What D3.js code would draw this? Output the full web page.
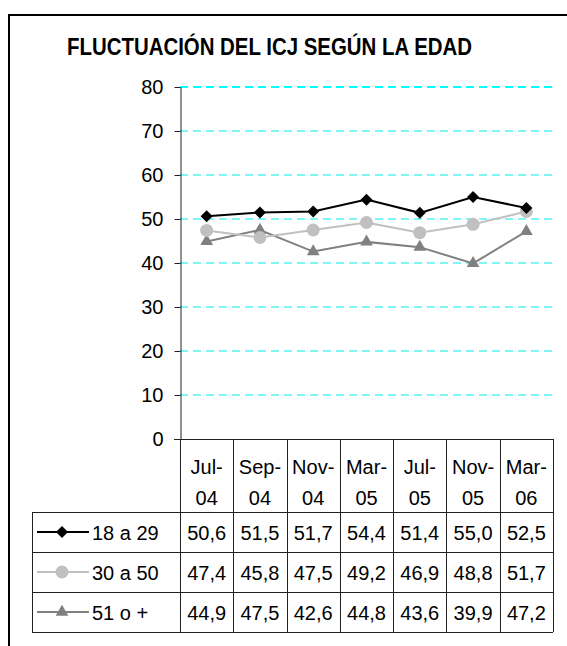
<!DOCTYPE html>
<html>
<head>
<meta charset="utf-8">
<script src="https://cdn.jsdelivr.net/npm/d3@7"></script>
<style>
  body { margin: 0; background: #fff; }
  text { font-family: "Liberation Sans", Arial, sans-serif; }
</style>
</head>
<body>
<div id="chart"></div>
<script>
// chart data
const categories = ["Jul-04", "Sep-04", "Nov-04", "Mar-05", "Jul-05", "Nov-05", "Mar-06"];
const seriesNames = ["18 a 29", "30 a 50", "51 o +"];
const values18a29 = [50.6, 51.5, 51.7, 54.4, 51.4, 55.0, 52.5];
const values30a50 = [47.4, 45.8, 47.5, 49.2, 46.9, 48.8, 51.7];
const values51mas = [44.9, 47.5, 42.6, 44.8, 43.6, 39.9, 47.2];
const yTicks = [0, 10, 20, 30, 40, 50, 60, 70, 80];

const width = 567, height = 646;
const font = "Liberation Sans, Arial, sans-serif";

const series = [
    { name: seriesNames[0], values: values18a29, color: "#000000", marker: "#000000", symbol: "diamond" },
    { name: seriesNames[1], values: values30a50, color: "#c0c0c0", marker: "#c0c0c0", symbol: "circle" },
    { name: seriesNames[2], values: values51mas, color: "#808080", marker: "#808080", symbol: "triangle" }
];

const svg = d3.select("#chart").append("svg")
    .attr("width", width)
    .attr("height", height);

svg.append("rect").attr("width", width).attr("height", height).attr("fill", "#fff");

// outer frame (runs off the right / bottom edge)
svg.append("rect")
    .attr("x", 9).attr("y", 15)
    .attr("width", 600).attr("height", 700)
    .attr("fill", "none")
    .attr("stroke", "#000")
    .attr("stroke-width", 2);

// title - Excel draws it tall and tight
svg.append("text")
    .attr("x", 67).attr("y", 55)
    .attr("textLength", 405)
    .attr("lengthAdjust", "spacingAndGlyphs")
    .style("font-size", "23px")
    .style("font-weight", "bold")
    .text("FLUCTUACIÓN DEL ICJ SEGÚN LA EDAD");

const plotLeft = 180, plotRight = 553;
const x = d3.scaleBand().domain(categories).range([plotLeft, plotRight]);
const y = d3.scaleLinear().domain([0, 80]).range([439, 87]);

// gridlines
svg.append("g")
    .selectAll("line")
    .data(yTicks.filter(d => d > 0))
    .join("line")
    .attr("x1", plotLeft).attr("x2", plotRight)
    .attr("y1", d => Math.round(y(d)))
    .attr("y2", d => Math.round(y(d)))
    .attr("stroke", d => d === 80 ? "#00ffff" : "#55f2f2")
    .attr("stroke-width", d => d === 80 ? 2 : 1.5)
    .attr("stroke-dasharray", "8,5");

// y axis
const yAxis = svg.append("g")
    .attr("transform", `translate(${plotLeft + 0.5},0)`)
    .call(d3.axisLeft(y).tickValues(yTicks).tickSize(6).tickPadding(11).tickSizeOuter(0));
yAxis.select(".domain").attr("stroke", "#222");
yAxis.selectAll(".tick line").attr("stroke", "#222");
yAxis.selectAll(".tick text")
    .style("font-family", font)
    .style("font-size", "20px")
    .attr("fill", "#000");

// data table / category axis
const tableLeft = 32;
const catTop = 439, tableTop = 512, rowH = 40;
const tableBottom = tableTop + rowH * series.length;
const lines = svg.append("g").attr("stroke", "#222").attr("stroke-width", 1);

// x axis line
lines.append("line")
    .attr("x1", plotLeft - 6).attr("x2", plotRight)
    .attr("y1", catTop + 0.5).attr("y2", catTop + 0.5);
// vertical separators
const bounds = categories.map(c => x(c)).concat([plotRight]);
lines.selectAll(".vsep")
    .data(bounds)
    .join("line")
    .attr("class", "vsep")
    .attr("x1", d => Math.round(d) + 0.5).attr("x2", d => Math.round(d) + 0.5)
    .attr("y1", catTop).attr("y2", tableBottom);
// horizontal rows
lines.selectAll(".hsep")
    .data(d3.range(series.length + 1))
    .join("line")
    .attr("class", "hsep")
    .attr("x1", tableLeft).attr("x2", plotRight)
    .attr("y1", i => tableTop + i * rowH + 0.5)
    .attr("y2", i => tableTop + i * rowH + 0.5);
lines.append("line")
    .attr("x1", tableLeft + 0.5).attr("x2", tableLeft + 0.5)
    .attr("y1", tableTop).attr("y2", tableBottom);

// category labels, wrapped after the hyphen
const catText = svg.append("g").selectAll("text")
    .data(categories)
    .join("text")
    .attr("text-anchor", "middle")
    .style("font-size", "20px");
catText.append("tspan")
    .attr("x", d => x(d) + x.bandwidth() / 2)
    .attr("y", 474)
    .text(d => d.split("-")[0] + "-");
catText.append("tspan")
    .attr("x", d => x(d) + x.bandwidth() / 2)
    .attr("y", 505)
    .text(d => d.split("-")[1]);

function symbolFor(name) {
    if (name === "diamond") return d3.symbol().type(d3.symbolSquare).size(72)();
    if (name === "circle") return d3.symbol().type(d3.symbolCircle).size(133)();
    return d3.symbol().type(d3.symbolTriangle).size(70)();
}

// lines and markers
const cx = i => x(categories[i]) + x.bandwidth() / 2;
const lineGen = d3.line().x((d, i) => cx(i)).y(d => y(d));

series.slice().reverse().forEach(s => {
    svg.append("path")
        .datum(s.values)
        .attr("d", lineGen)
        .attr("fill", "none")
        .attr("stroke", s.color)
        .attr("stroke-width", 2);
    svg.append("g").selectAll("path")
        .data(s.values)
        .join("path")
        .attr("d", symbolFor(s.symbol))
        .attr("transform", (d, i) => `translate(${cx(i)},${y(d)})` + (s.symbol === "diamond" ? " rotate(45)" : ""))
        .attr("fill", s.marker);
});

// table rows: legend key + values
series.forEach((s, r) => {
    const midY = tableTop + r * rowH + rowH / 2;
    svg.append("line")
        .attr("x1", 37).attr("x2", 89)
        .attr("y1", midY).attr("y2", midY)
        .attr("stroke", s.color)
        .attr("stroke-width", 2);
    svg.append("path")
        .attr("d", symbolFor(s.symbol))
        .attr("transform", `translate(62,${midY})` + (s.symbol === "diamond" ? " rotate(45)" : ""))
        .attr("fill", s.marker);
    svg.append("text")
        .attr("x", 92).attr("y", midY + 7.5)
        .style("font-size", "20px")
        .text(s.name);
    svg.append("g").selectAll("text")
        .data(s.values)
        .join("text")
        .attr("x", (d, i) => cx(i))
        .attr("y", midY + 7.5)
        .attr("text-anchor", "middle")
        .style("font-size", "20px")
        .text(d => d.toFixed(1).replace(".", ","));
});
</script>
</body>
</html>
